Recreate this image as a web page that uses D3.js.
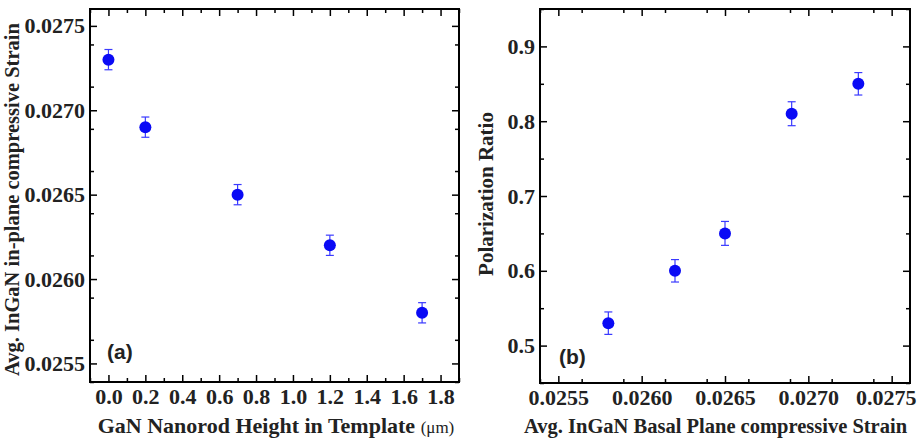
<!DOCTYPE html>
<html>
<head>
<meta charset="utf-8">
<script src="https://cdn.jsdelivr.net/npm/d3@7"></script>
<style>
  body { margin: 0; background: #fff; }
  svg { display: block; }
  .tick text { font-family: "Liberation Serif", "Times New Roman", serif; font-weight: bold; font-size: 22px; fill: #222; }
  .domain { stroke: none; }
  .tick line { stroke: #000; stroke-width: 1.5; }
</style>
</head>
<body>
<svg id="chart" width="918" height="441"></svg>
<script>
// panel (a): strain vs nanorod height
const heights = [0.0, 0.2, 0.7, 1.2, 1.7];
const strainA = [0.0273, 0.0269, 0.0265, 0.0262, 0.0258];
const strainErrA = [0.00006, 0.00006, 0.00006, 0.00006, 0.00006];
const xTicksA = [0.0, 0.2, 0.4, 0.6, 0.8, 1.0, 1.2, 1.4, 1.6, 1.8];
const yTicksA = [0.0255, 0.0260, 0.0265, 0.0270, 0.0275];

// panel (b): polarization ratio vs strain
const strainB = [0.0258, 0.0262, 0.0265, 0.0269, 0.0273];
const polRatio = [0.53, 0.60, 0.65, 0.81, 0.85];
const polErr = [0.015, 0.015, 0.016, 0.016, 0.015];
const xTicksB = [0.0255, 0.0260, 0.0265, 0.0270, 0.0275];
const yTicksB = [0.5, 0.6, 0.7, 0.8, 0.9];

const svg = d3.select("#chart");
const serif = '"Liberation Serif", "Times New Roman", serif';

function panel(opt) {
  const { left, top, right, bottom } = opt.box;
  const x = d3.scaleLinear().domain(opt.xDomain).range([left, right]);
  const y = d3.scaleLinear().domain(opt.yDomain).range([bottom, top]);
  const g = svg.append("g");

  // major + minor ticks on all four sides, pointing inward
  const minorX = d3.range(opt.xDomain[0], opt.xDomain[1] + 1e-9, opt.xMinor).filter(v => !opt.xTicks.some(t => Math.abs(t - v) < 1e-9));
  const minorY = d3.range(opt.yDomain[0], opt.yDomain[1] + 1e-9, opt.yMinor).filter(v => !opt.yTicks.some(t => Math.abs(t - v) < 1e-9));

  const xAx = g.append("g").attr("transform", `translate(0,${bottom})`)
    .call(d3.axisBottom(x).tickValues(opt.xTicks).tickSize(-7).tickPadding(6).tickFormat(opt.xFmt));
  g.append("g").attr("transform", `translate(0,${bottom})`)
    .call(d3.axisBottom(x).tickValues(minorX).tickSize(-4).tickFormat(""));
  g.append("g").attr("transform", `translate(0,${top})`)
    .call(d3.axisTop(x).tickValues(opt.xTicks).tickSize(-7).tickFormat(""));
  g.append("g").attr("transform", `translate(0,${top})`)
    .call(d3.axisTop(x).tickValues(minorX).tickSize(-4).tickFormat(""));

  g.append("g").attr("transform", `translate(${left},0)`)
    .call(d3.axisLeft(y).tickValues(opt.yTicks).tickSize(-7).tickPadding(5).tickFormat(opt.yFmt));
  g.append("g").attr("transform", `translate(${left},0)`)
    .call(d3.axisLeft(y).tickValues(minorY).tickSize(-4).tickFormat(""));
  g.append("g").attr("transform", `translate(${right},0)`)
    .call(d3.axisRight(y).tickValues(opt.yTicks).tickSize(-7).tickFormat(""));
  g.append("g").attr("transform", `translate(${right},0)`)
    .call(d3.axisRight(y).tickValues(minorY).tickSize(-4).tickFormat(""));

  g.append("rect").attr("x", left).attr("y", top)
    .attr("width", right - left).attr("height", bottom - top)
    .attr("fill", "none").attr("stroke", "#000").attr("stroke-width", 2);

  // error bars
  const pts = opt.xs.map((v, i) => ({ x: v, y: opt.ys[i], e: opt.errs[i] }));
  const eb = g.append("g").attr("stroke", "#3a3aff").attr("stroke-width", 1.2);
  eb.selectAll(".v").data(pts).join("line")
    .attr("x1", d => x(d.x)).attr("x2", d => x(d.x))
    .attr("y1", d => y(d.y + d.e)).attr("y2", d => y(d.y - d.e));
  eb.selectAll(".t").data(pts).join("line")
    .attr("x1", d => x(d.x) - 4).attr("x2", d => x(d.x) + 4)
    .attr("y1", d => y(d.y + d.e)).attr("y2", d => y(d.y + d.e));
  eb.selectAll(".b").data(pts).join("line")
    .attr("x1", d => x(d.x) - 4).attr("x2", d => x(d.x) + 4)
    .attr("y1", d => y(d.y - d.e)).attr("y2", d => y(d.y - d.e));

  g.selectAll("circle").data(pts).join("circle")
    .attr("cx", d => x(d.x)).attr("cy", d => y(d.y)).attr("r", 6)
    .attr("fill", "#0a0af5");

  // panel label
  g.append("text").attr("x", opt.label.x).attr("y", opt.label.y)
    .attr("font-family", "Arial, 'Liberation Sans', sans-serif").attr("font-weight", "bold")
    .attr("font-size", 21).attr("fill", "#222").text(opt.label.text);

  return { x, y, g, xAx };
}

panel({
  box: { left: 90, top: 9, right: 459, bottom: 382 },
  xDomain: [-0.1, 1.9], yDomain: [0.02539, 0.02760],
  xTicks: xTicksA, yTicks: yTicksA, xMinor: 0.1, yMinor: 0.00025,
  xFmt: d3.format(".1f"), yFmt: d3.format(".4f"),
  xs: heights, ys: strainA, errs: strainErrA,
  label: { x: 107, y: 359, text: "(a)" }
});

const pb = panel({
  box: { left: 540, top: 9, right: 910, bottom: 383 },
  xDomain: [0.02539, 0.02761], yDomain: [0.45, 0.95],
  xTicks: xTicksB, yTicks: yTicksB, xMinor: 0.00025, yMinor: 0.05,
  xFmt: d3.format(".4f"), yFmt: d3.format(".1f"),
  xs: strainB, ys: polRatio, errs: polErr,
  label: { x: 559, y: 364, text: "(b)" }
});
// keep the last tick label inside the page
pb.xAx.selectAll(".tick text").filter(d => d === 0.0275).attr("dx", -6);

// axis titles
const xa = svg.append("text").attr("x", 276).attr("y", 433).attr("text-anchor", "middle")
  .attr("font-family", serif).attr("font-weight", "bold").attr("font-size", 22).attr("fill", "#222");
xa.append("tspan").text("GaN Nanorod Height in Template ");
xa.append("tspan").attr("font-size", 17).attr("font-weight", "normal").text("(\u03bcm)");

svg.append("text").attr("x", 524).attr("y", 433)
  .attr("font-family", serif).attr("font-weight", "bold").attr("font-size", 20.5).attr("fill", "#222")
  .text("Avg. InGaN Basal Plane compressive Strain");

svg.append("text").attr("transform", "translate(19,376) rotate(-90)")
  .attr("font-family", serif).attr("font-weight", "bold").attr("font-size", 20.5).attr("fill", "#222")
  .text("Avg. InGaN in-plane compressive Strain");

svg.append("text").attr("transform", "translate(493,194) rotate(-90)").attr("text-anchor", "middle")
  .attr("font-family", serif).attr("font-weight", "bold").attr("font-size", 21).attr("fill", "#222")
  .text("Polarization Ratio");
</script>
</body>
</html>
